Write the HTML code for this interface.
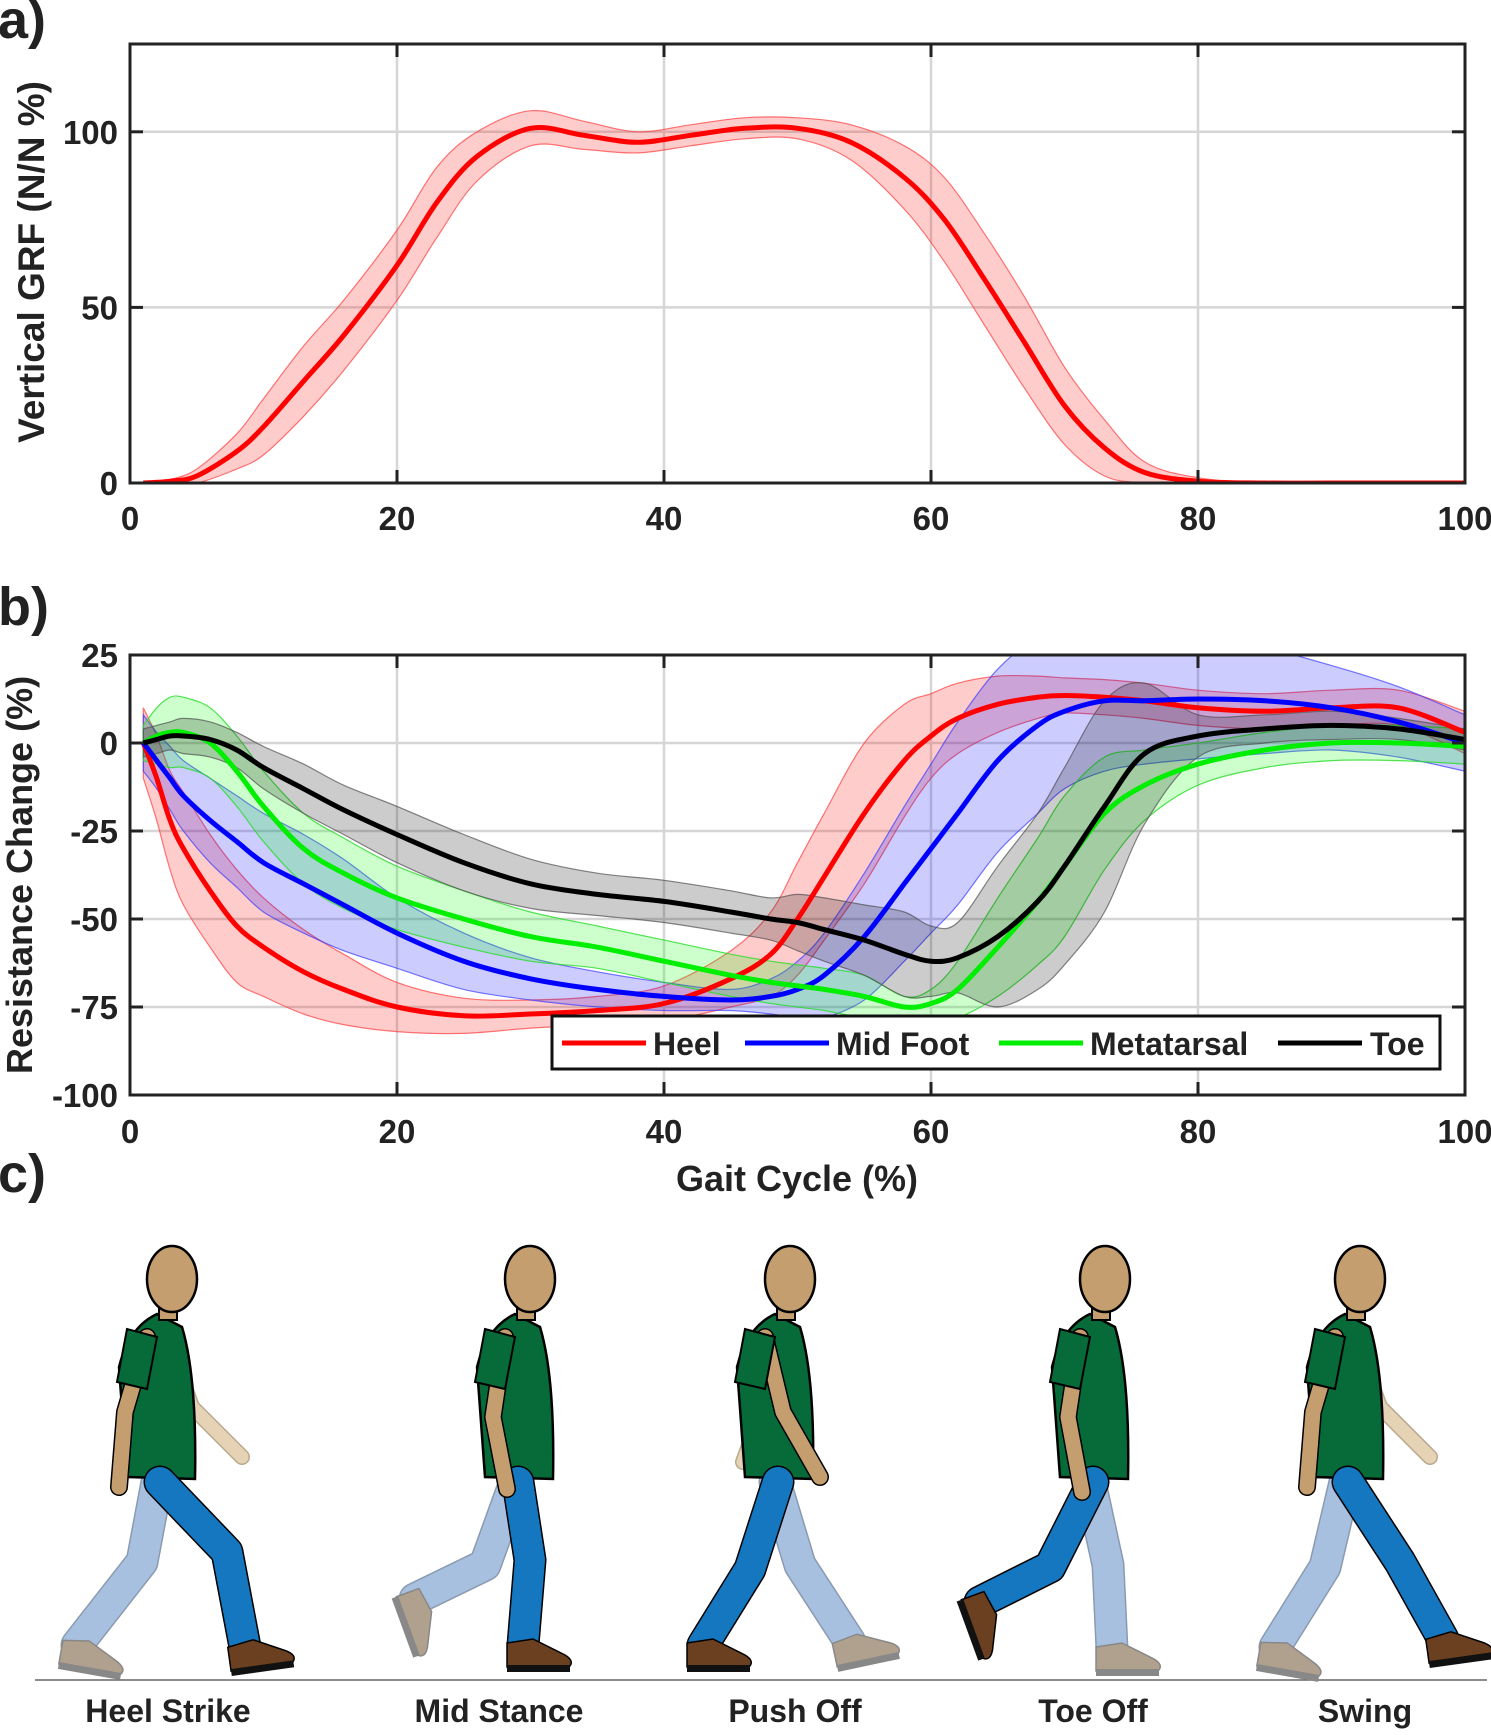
<!DOCTYPE html>
<html><head><meta charset="utf-8">
<style>
html,body{margin:0;padding:0;background:#fff;}
svg text{font-family:"Liberation Sans",Arial,sans-serif;font-weight:bold;fill:#222;}
</style></head>
<body>
<svg id="fig" width="1491" height="1730" viewBox="0 0 1491 1730" xmlns="http://www.w3.org/2000/svg">
<defs>
<clipPath id="clipA"><rect x="130" y="44" width="1335" height="439"/></clipPath>
<clipPath id="clipB"><rect x="130" y="655" width="1335" height="440"/></clipPath>
</defs>
<g id="panelA"></g>
<g id="panelB"></g>
<g id="panelC"></g>
</svg>
<script>
// ---------- Panel a data ----------
const grfX = [1,3,5,8,10,13,16,20,23,26,30,34,38,42,46,50,54,58,61,64,67,70,73,76,80,85,90,95,100];
const grfMean = [0,0.5,2,9,16,29,42,62,80,93,101,99,97,99,101,101,97,87,75,58,40,22,10,3,0.5,0,0,0,0];
const grfSd = [0,0.5,2,5,8,10,10,10,10,7,5,4,3,3,3,3,5,9,12,13,13,11,8,3,1,0,0,0,0];
const xTicks = [0,20,40,60,80,100];
const grfYTicks = [0,50,100];

// ---------- Panel b data ----------
const resX = [1,2,3,4,6,8,10,13,16,20,25,30,35,40,45,48,50,52,55,58,60,62,65,68,70,73,76,80,85,90,95,100];
const heelMean = [0,-10,-22,-30,-42,-52,-58,-65,-70,-75,-77.5,-77,-76,-74,-67,-60,-50,-38,-20,-5,2,7,11,13,13.5,13,12,10,9,10,10,3];
const heelSd = [10,12,14,16,16,16,14,12,10,7,5,4,4,5,8,12,16,18,20,16,12,10,8,6,5,5,5,5,5,5,5,6];
const midMean = [0,-5,-10,-15,-22,-28,-34,-40,-46,-54,-62,-67,-70,-72,-73,-72,-70,-66,-55,-40,-30,-20,-5,5,9,12,12,12.5,12,10,6,0];
const midSd = [8,8,9,10,12,13,14,14,13,10,8,6,5,4,3,5,8,12,18,22,24,26,26,25,22,20,18,17,15,12,10,8];
const metaMean = [0,2,3,3,0,-8,-18,-30,-37,-44,-50,-55,-58,-62,-66,-68,-69,-70,-72,-75,-74,-70,-58,-45,-35,-20,-12,-6,-2,0,0,-1];
const metaSd = [5,8,10,10,10,10,10,10,10,9,8,7,6,6,6,6,6,6,6,3,4,8,14,18,20,16,10,6,5,5,5,5];
const toeMean = [0,1,2,2,1,-2,-7,-13,-19,-26,-34,-40,-43,-45,-48,-50,-51,-53,-56,-60,-62,-61,-55,-45,-35,-18,-3,2,4,5,4,1];
const toeSd = [4,4,4,5,5,5,6,7,7,8,8,7,6,6,6,6,8,9,10,12,10,10,20,25,28,30,20,6,4,4,3,3];
const resYTicks = [25,0,-25,-50,-75,-100];
const seriesNames = ["Heel","Mid Foot","Metatarsal","Toe"];

const NS = "http://www.w3.org/2000/svg";
function mk(tag, attrs, parent){const e=document.createElementNS(NS,tag);for(const k in attrs)e.setAttribute(k,attrs[k]);if(parent)parent.appendChild(e);return e;}
function smooth(pts){
  let d="M"+pts[0][0].toFixed(1)+","+pts[0][1].toFixed(1);
  for(let i=0;i<pts.length-1;i++){
    const p0=pts[Math.max(0,i-1)],p1=pts[i],p2=pts[i+1],p3=pts[Math.min(pts.length-1,i+2)];
    const c1=[p1[0]+(p2[0]-p0[0])/6,p1[1]+(p2[1]-p0[1])/6];
    const c2=[p2[0]-(p3[0]-p1[0])/6,p2[1]-(p3[1]-p1[1])/6];
    d+=" C"+c1[0].toFixed(1)+","+c1[1].toFixed(1)+" "+c2[0].toFixed(1)+","+c2[1].toFixed(1)+" "+p2[0].toFixed(1)+","+p2[1].toFixed(1);
  }
  return d;
}
function smoothCont(pts){return smooth(pts).replace(/^M/,"L");}

const L=130,R=1465;
const X = v => L + v*(R-L)/100;
const YA = v => 483 - v*(483-44)/125;
const YB = v => 743 - v*3.52;

function axesFrame(g, top, bottom, yTicks, Y){
  xTicks.slice(1,-1).forEach(t=>{
    const l=mk("line",{x1:X(t),x2:X(t),y1:top,y2:bottom,stroke:"#d6d6d6","stroke-width":2.5},g);
    
    
  });
  yTicks.forEach(t=>{
    const yy=Y(t); if(yy<=top+1||yy>=bottom-1) return;
    const l=mk("line",{x1:L,x2:R,y1:yy,y2:yy,stroke:"#d6d6d6","stroke-width":2.5},g);
    
    
  });
}
function axesBox(g, top, bottom, yTicks, Y, xLabY){
  const box=mk("rect",{x:L,y:top,width:R-L,height:bottom-top,fill:"none",stroke:"#222","stroke-width":3},g);
  
  
  xTicks.forEach(t=>{
    mk("line",{x1:X(t),x2:X(t),y1:bottom,y2:bottom-13,stroke:"#222","stroke-width":3},g);
    mk("line",{x1:X(t),x2:X(t),y1:top,y2:top+13,stroke:"#222","stroke-width":3},g);
    const tx=mk("text",{x:X(t),y:xLabY,"text-anchor":"middle","font-size":33},g);
    tx.textContent=t;
    
    
  });
  yTicks.forEach(t=>{
    const yy=Y(t);
    mk("line",{x1:L,x2:L+13,y1:yy,y2:yy,stroke:"#222","stroke-width":3},g);
    mk("line",{x1:R,x2:R-13,y1:yy,y2:yy,stroke:"#222","stroke-width":3},g);
    const tx=mk("text",{x:L-12,y:yy+12,"text-anchor":"end","font-size":33},g);
    tx.textContent=t;
    
    
  });
}
function band(g, xs, mean, sd, Y, fill, edge, clip, name){
  const up=xs.map((x,i)=>[X(x),Y(mean[i]+sd[i])]);
  const lo=xs.map((x,i)=>[X(x),Y(mean[i]-sd[i])]).reverse();
  const d=smooth(up)+" "+smoothCont(lo)+" Z";
  const p=mk("path",{d:d,fill:fill,stroke:edge,"stroke-width":1.2,"clip-path":"url(#"+clip+")"},g);
  
  
}
function line(g, xs, mean, Y, color, clip, name){
  const pts=xs.map((x,i)=>[X(x),Y(mean[i])]);
  const p=mk("path",{d:smooth(pts),fill:"none",stroke:color,"stroke-width":5,"stroke-linejoin":"round","clip-path":"url(#"+clip+")"},g);
  
  
}

// ---- Panel a ----
const gA=document.getElementById("panelA");
axesFrame(gA,44,483,grfYTicks,YA);
band(gA,grfX,grfMean,grfSd,YA,"rgba(255,0,0,0.2)","rgba(255,60,60,0.7)","clipA","grf");
line(gA,grfX,grfMean,YA,"#ff0000","clipA","grf-mean");
axesBox(gA,44,483,grfYTicks,YA,530);
let t=mk("text",{x:-2,y:38,"font-size":54},gA); t.textContent="a)";


t=mk("text",{x:0,y:0,"font-size":37,"text-anchor":"middle",transform:"translate(44,262) rotate(-90)"},gA); t.textContent="Vertical GRF (N/N %)";



// ---- Panel b ----
const gB=document.getElementById("panelB");
axesFrame(gB,655,1095,resYTicks,YB);
const cfg=[
 [heelMean,heelSd,"rgba(255,0,0,0.2)","rgba(255,60,60,0.7)","#ff0000","heel"],
 [midMean,midSd,"rgba(0,0,255,0.2)","rgba(60,60,255,0.7)","#0000ff","mid-foot"],
 [metaMean,metaSd,"rgba(0,255,0,0.2)","rgba(40,220,40,0.8)","#00ee00","metatarsal"],
 [toeMean,toeSd,"rgba(0,0,0,0.2)","rgba(80,80,80,0.7)","#000000","toe"]];
cfg.forEach(c=>band(gB,resX,c[0],c[1],YB,c[2],c[3],"clipB",c[5]));
cfg.forEach(c=>line(gB,resX,c[0],YB,c[4],"clipB",c[5]));
axesBox(gB,655,1095,resYTicks,YB,1143);
t=mk("text",{x:-2,y:625,"font-size":54},gB); t.textContent="b)";


t=mk("text",{x:0,y:0,"font-size":36,"text-anchor":"middle",transform:"translate(32,875) rotate(-90)"},gB); t.textContent="Resistance Change (%)";


t=mk("text",{x:797,y:1191,"font-size":36,"text-anchor":"middle"},gB); t.textContent="Gait Cycle (%)";


// legend
const lg=mk("g",{},gB);


mk("rect",{x:552,y:1016,width:888,height:53,fill:"#fff",stroke:"#111","stroke-width":3},lg);
const legX=[[562,653],[745,836],[999,1090],[1278,1370]];
cfg.forEach((c,i)=>{
  const e=mk("g",{},lg);
  
  
  mk("line",{x1:legX[i][0],x2:legX[i][0]+84,y1:1043,y2:1043,stroke:c[4],"stroke-width":5},e);
  const tx=mk("text",{x:legX[i][1],y:1055,"font-size":32,fill:"#111"},e);
  tx.textContent=seriesNames[i];
});

// ---- Panel c ----
const gC=document.getElementById("panelC");
t=mk("text",{x:-2,y:1192,"font-size":54},gC); t.textContent="c)";


const gl=mk("line",{x1:35,x2:1487,y1:1680,y2:1680,stroke:"#666","stroke-width":1.5},gC);



const poses=[
 {name:"Heel Strike",hx:157,lab:168,fk:[70,75],fa:[88,170],bk:[-15,85],ba:[-80,168],fArm:[[-22,75],[-28,150]],bArm:[[25,70],[75,120]],fShoe:"heel",bShoe:"toe"},
 {name:"Mid Stance",hx:515,lab:499,fk:[15,83],fa:[8,168],bk:[-30,88],ba:[-100,122],fArm:[[-12,80],[2,152]],bArm:null,fShoe:"flat",bShoe:"up"},
 {name:"Push Off",hx:775,lab:795,fk:[-25,92],fa:[-72,168],bk:[25,88],ba:[75,165],fArm:[[18,75],[55,140]],bArm:[[-22,70],[-42,125]],fShoe:"flat",bShoe:"heelB"},
 {name:"Toe Off",hx:1090,lab:1093,fk:[-40,90],fa:[-110,125],bk:[18,88],ba:[22,172],fArm:[[-12,80],[2,155]],bArm:null,fShoe:"up",bShoe:"flat"},
 {name:"Swing",hx:1345,lab:1365,fk:[55,85],fa:[98,162],bk:[-20,90],ba:[-70,170],fArm:[[-22,75],[-28,150]],bArm:[[25,70],[75,120]],fShoe:"heel",bShoe:"toe"}];

function limb(g,pts,w,fill,edge){
  const d="M"+pts.map(p=>p[0]+","+p[1]).join(" L");
  mk("path",{d:d,fill:"none",stroke:edge,"stroke-width":w+3,"stroke-linecap":"round","stroke-linejoin":"round"},g);
  mk("path",{d:d,fill:"none",stroke:fill,"stroke-width":w,"stroke-linecap":"round","stroke-linejoin":"round"},g);
}
function shoe(g,x,y,kind,fill,sole,edge){
  let rot=0; if(kind==="heel")rot=-8; if(kind==="toe")rot=10; if(kind==="up")rot=70; if(kind==="heelB")rot=-12;
  const s=mk("g",{transform:"translate("+x+","+y+") rotate("+rot+")"},g);
  mk("path",{d:"M-16,-10 L10,-14 L42,2 Q52,8 46,14 L-16,14 Z",fill:fill,stroke:edge,"stroke-width":1.5},s);
  mk("rect",{x:-16,y:12,width:63,height:7,fill:sole},s);
}
poses.forEach(p=>{
  const g=mk("g",{},gC);
  
  
  const hx=p.hx, hy=1477;
  const sh=[hx-10,hy-140];
  if(p.bArm) limb(g,[[sh[0]+20,sh[1]],[sh[0]+20+p.bArm[0][0],sh[1]+p.bArm[0][1]],[sh[0]+20+p.bArm[1][0],sh[1]+p.bArm[1][1]]],13,"#e6d3b5","#b8a88e");
  limb(g,[[hx,hy+5],[hx+p.bk[0],hy+p.bk[1]],[hx+p.ba[0],hy+p.ba[1]]],30,"#a8c0e0","#8a9ab0");
  shoe(g,hx+p.ba[0],hy+p.ba[1]+8,p.bShoe,"#b0a08e","#888","#888");
  mk("path",{d:"M"+(hx-30)+","+(hy)+" L"+(hx-38)+","+(hy-110)+" Q"+(hx-28)+","+(hy-150)+" "+(hx)+","+(hy-163)+" L"+(hx+25)+","+(hy-150)+" Q"+(hx+40)+","+(hy-100)+" "+(hx+38)+","+(hy+2)+" Z",fill:"#066b38",stroke:"#000","stroke-width":2.5},g);
  limb(g,[[hx+3,hy+5],[hx+p.fk[0],hy+p.fk[1]],[hx+p.fa[0],hy+p.fa[1]]],30,"#1477c0","#000");
  shoe(g,hx+p.fa[0],hy+p.fa[1]+8,p.fShoe,"#6b4020","#111","#000");
  limb(g,[sh,[sh[0]+p.fArm[0][0],sh[1]+p.fArm[0][1]],[sh[0]+p.fArm[1][0],sh[1]+p.fArm[1][1]]],15,"#c49e6e","#000");
  mk("path",{d:"M"+(hx-30)+","+(hy-148)+" L"+(hx-40)+","+(hy-95)+" L"+(hx-10)+","+(hy-88)+" L"+(hx)+","+(hy-140)+" Z",fill:"#066b38",stroke:"#000","stroke-width":2},g);
  mk("rect",{x:hx+2,y:hy-185,width:18,height:28,fill:"#c49e6e",stroke:"#000","stroke-width":2},g);
  mk("ellipse",{cx:hx+15,cy:hy-198,rx:25,ry:33,fill:"#c49e6e",stroke:"#000","stroke-width":2.5},g);
  const tx=mk("text",{x:p.lab,y:1722,"text-anchor":"middle","font-size":32,fill:"#111"},g);
  tx.textContent=p.name;
});
</script>
</body></html>
